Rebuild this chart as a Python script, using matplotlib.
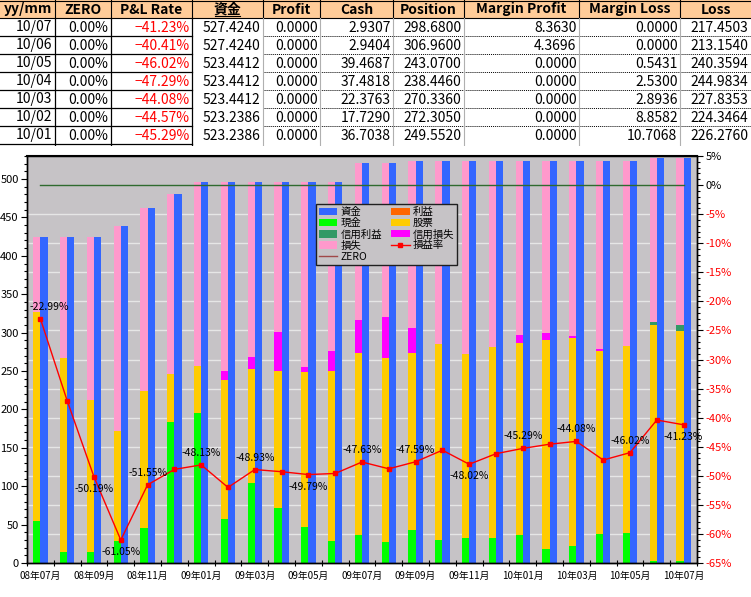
import matplotlib
matplotlib.use('Agg')
import matplotlib.pyplot as plt
import numpy as np
from matplotlib.patches import Patch, Rectangle
from matplotlib.lines import Line2D
from matplotlib.ticker import MultipleLocator, FixedLocator
import matplotlib.transforms as mtransforms
from matplotlib import font_manager

plt.rcParams['font.family'] = ['Noto Sans CJK JP', 'DejaVu Sans']
_names = {f.name for f in font_manager.fontManager.ttflist}
NARROW = ['Liberation Sans Narrow', 'Noto Sans CJK JP', 'DejaVu Sans'] \
    if 'Liberation Sans Narrow' in _names else ['Noto Sans CJK JP', 'DejaVu Sans']

# ---------------- data ----------------
months = ['08/07', '08/08', '08/09', '08/10', '08/11', '08/12',
          '09/01', '09/02', '09/03', '09/04', '09/05', '09/06',
          '09/07', '09/08', '09/09', '09/10', '09/11', '09/12',
          '10/01', '10/02', '10/03', '10/04', '10/05', '10/06', '10/07']
capital = [424.0, 424.0, 424.0, 439.0, 462.0, 480.5,
           496.0, 496.0, 496.0, 496.0, 496.0, 496.0,
           521.0, 521.0, 523.2, 523.2, 523.2, 523.2,
           523.2386, 523.2386, 523.4412, 523.4412, 523.4412, 527.4240, 527.4240]
profit = [0.0, 0.0, 0.0, 0.0, 0.0, 0.0, 0.0, 0.0, 0.0, 0.0, 0.0, 0.0, 0.0,
          0.0, 0.0, 0.0, 0.0, 0.0, 0.0, 0.0, 0.0, 0.0, 0.0, 0.0, 0.0]
cash = [55.0, 14.7, 14.7, 28.6, 46.0, 183.6,
        195.7, 57.3, 104.6, 72.0, 47.3, 28.6,
        36.0, 26.9, 43.0, 30.0, 32.1, 32.1,
        36.7038, 17.7290, 22.3763, 37.4818, 39.4687, 2.9404, 2.9307]
position = [272.2, 252.7, 197.5, 142.8, 178.0, 62.9,
            61.3, 181.0, 148.0, 178.4, 201.8, 221.4,
            237.0, 239.6, 230.8, 255.2, 240.0, 249.2,
            249.5520, 272.3050, 270.3360, 238.4460, 243.0700, 306.9600, 298.6800]
margin_profit = [0.0, 0.0, 0.0, 0.0, 0.0, 0.0, 0.0, 0.0, 0.0, 0.0, 0.0, 0.0, 0.0,
                 0.0, 0.0, 0.0, 0.0, 0.0, 0.0, 0.0, 0.0, 0.0, 0.0, 4.3696, 8.3630]
margin_loss = [0.0, 0.0, 0.0, 0.0, 0.0, 0.0,
               0.0, 12.0, 15.6, 50.4, 6.0, 26.0,
               43.4, 54.2, 32.6, 0.0, 0.0, 0.0,
               10.7068, 8.8582, 2.8936, 2.5300, 0.5431, 0.0, 0.0]
loss = [96.8, 156.6, 211.8, 267.6, 238.0, 234.0,
        239.0, 245.7, 227.8, 195.2, 240.9, 220.0,
        204.6, 200.3, 216.8, 238.0, 251.1, 241.9,
        226.2760, 224.3464, 227.8353, 244.9834, 240.3594, 213.1540, 217.4503]
pl_rate = [-22.99, -37.1, -50.19, -61.05, -51.55, -48.9,
           -48.13, -52.0, -48.93, -49.3, -49.79, -49.6,
           -47.63, -48.8, -47.59, -45.6, -48.02, -46.2,
           -45.29, -44.57, -44.08, -47.29, -46.02, -40.41, -41.23]
zero_rate = [0.0, 0.0, 0.0, 0.0, 0.0, 0.0, 0.0, 0.0, 0.0, 0.0, 0.0, 0.0, 0.0,
             0.0, 0.0, 0.0, 0.0, 0.0, 0.0, 0.0, 0.0, 0.0, 0.0, 0.0, 0.0]
label_pos = ['a', None, 'b', 'b', 'a', None, 'a', None, 'a', None, 'b', None,
             'a', None, 'a', None, 'b', None, 'a', None, 'a', None, 'a', None, 'b']

table_header = ['yy/mm', 'ZERO', 'P&L Rate', '資金', 'Profit', 'Cash',
                'Position', 'Margin Profit', 'Margin Loss', 'Loss']

# ---------------- colours ----------------
C_CAP = '#3366FF'
C_PROFIT = '#FF6600'
C_CASH = '#00FF00'
C_POS = '#FFCC00'
C_MP = '#339966'
C_ML = '#FF00FF'
C_LOSS = '#FF99CC'
C_BG = '#C6C3C6'

W, H = 751, 597
fig = plt.figure(figsize=(W / 100, H / 100), dpi=100)

# ---------------- table ----------------
axt = fig.add_axes([0, 1 - 146 / H, 1, 146 / H])
axt.set_xlim(0, W)
axt.set_ylim(146, 0)
axt.axis('off')
col_edges = [0, 55, 111, 192, 263, 320, 393, 464, 579, 680, 751]
row_h = 18
axt.add_patch(Rectangle((0, 0), W, row_h, facecolor='#FFCC99', edgecolor='none'))
for j, name in enumerate(table_header):
    cx = (col_edges[j] + col_edges[j + 1]) / 2
    axt.text(cx, row_h / 2 + 0.5, name, ha='center', va='center',
             fontsize=10, fontweight='bold', color='black')
axt.plot([215, 240], [16.3, 16.3], color='black', lw=0.8)
axt.plot([0, W], [0.5, 0.5], color='black', lw=0.8)
axt.plot([0, W], [row_h, row_h], color='black', lw=0.8)
for e in col_edges[1:-1]:
    axt.plot([e, e], [0, row_h], color='black', lw=0.8)

rows = list(reversed(range(len(months) - 7, len(months))))
for r, i in enumerate(rows):
    y0 = row_h * (r + 1)
    yc = y0 + row_h / 2 + 0.5
    vals = [months[i][0:2] + '/' + months[i][3:5],
            f'{zero_rate[i]:.2f}%',
            f'{pl_rate[i]:.2f}%'.replace('-', '\u2212'),
            f'{capital[i]:.4f}', f'{profit[i]:.4f}', f'{cash[i]:.4f}',
            f'{position[i]:.4f}', f'{margin_profit[i]:.4f}',
            f'{margin_loss[i]:.4f}', f'{loss[i]:.4f}']
    for j, v in enumerate(vals):
        color = 'red' if j == 2 else 'black'
        axt.text(col_edges[j + 1] - 2.5, yc, v, ha='right', va='center',
                 fontsize=10, color=color)
    axt.plot([0, 192], [y0 + row_h, y0 + row_h], color='black', lw=0.9)
    if r < 6:
        axt.plot([263, W], [y0 + row_h, y0 + row_h], color='black', lw=0.7,
                 linestyle=(0, (1, 1)))
for e in [55, 111, 192]:
    axt.plot([e, e], [row_h, 146], color='black', lw=0.9)
for e in [263, 320, 393, 464, 579, 680]:
    axt.plot([e, e], [row_h, 146], color='#B0B0B0', lw=0.8)

# ---------------- chart ----------------
ax = fig.add_axes([27 / W, (H - 563) / H, 670 / W, 407 / H])
ax.set_facecolor(C_BG)
ax2 = ax.twinx()

x = np.arange(len(months))
w = 0.27
ax.set_xlim(-0.5, len(months) - 0.5)
ax.set_ylim(0, 530)
ax2.set_ylim(-65, 5)

gtrans = mtransforms.blended_transform_factory(ax.transAxes, ax2.transData)
for g in range(-60, 0, 5):
    ax.add_line(Line2D([0, 1], [g, g], transform=gtrans, color='#E6E6E6',
                       lw=1.0, zorder=0.5))

xs = x - w / 2
bottom = np.zeros(len(months))
for vals, col in [(profit, C_PROFIT), (cash, C_CASH), (position, C_POS),
                  (margin_profit, C_MP), (margin_loss, C_ML), (loss, C_LOSS)]:
    ax.bar(xs, vals, w, bottom=bottom, color=col, edgecolor='none', zorder=2)
    bottom = bottom + np.array(vals)
ax.bar(x + w / 2, capital, w, color=C_CAP, edgecolor='none', zorder=2)

ax2.plot(x, zero_rate, color='#2F6B2F', lw=1.0, zorder=3)
ax2.plot(x, pl_rate, color='#FF0000', lw=1.0, marker='s', markersize=2.5,
         zorder=4)
for i, pos in enumerate(label_pos):
    if pos is None:
        continue
    dy = 12 if pos == 'a' else -12
    dx = 9 if i == 0 else 0
    ax2.annotate(f'{pl_rate[i]:.2f}%', (x[i], pl_rate[i]),
                 xytext=(dx, dy), textcoords='offset pixels',
                 ha='center', va='center', fontsize=7.5, color='black',
                 family=NARROW, zorder=5)

for a in (ax, ax2):
    for s in a.spines.values():
        s.set_color('black')
        s.set_linewidth(1.0)
ax.spines['top'].set_linewidth(1.5)

ax.set_yticks(np.arange(0, 501, 50))
ax.yaxis.set_minor_locator(MultipleLocator(10))
ax.tick_params(axis='y', which='major', direction='out', length=4,
               labelsize=8, pad=2, width=0.8)
ax.tick_params(axis='y', which='minor', direction='out', length=2, width=0.8)
for lab in ax.get_yticklabels():
    lab.set_family(NARROW)

ax.xaxis.set_major_locator(FixedLocator(x[::2]))
ax.set_xticklabels(['%s年%s月' % (m[0:2], m[3:5]) for m in months[::2]])
ax.xaxis.set_minor_locator(FixedLocator(np.arange(-0.5, len(months), 1)))
ax.tick_params(axis='x', which='major', length=0, labelsize=7, pad=6)
ax.tick_params(axis='x', which='minor', direction='inout', length=5, width=0.8)
for lab in ax.get_xticklabels():
    lab.set_family(NARROW)

rt = list(range(-65, 6, 5))
ax2.set_yticks(rt)
ax2.set_yticklabels([f'{v}%' for v in rt])
for lab, v in zip(ax2.get_yticklabels(), rt):
    lab.set_color('red' if v < 0 else 'black')
    lab.set_family(NARROW)
ax2.yaxis.set_minor_locator(MultipleLocator(1))
ax2.tick_params(axis='y', which='major', direction='out', length=4,
                labelsize=8, pad=2, width=0.8)
ax2.tick_params(axis='y', which='minor', direction='out', length=2, width=0.8)

handles = [
    Patch(facecolor=C_CAP, label='資金'),
    Patch(facecolor=C_CASH, label='現金'),
    Patch(facecolor=C_MP, label='信用利益'),
    Patch(facecolor=C_LOSS, label='損失'),
    Line2D([], [], color='#A04848', lw=1.0, label='ZERO'),
    Patch(facecolor=C_PROFIT, label='利益'),
    Patch(facecolor=C_POS, label='股票'),
    Patch(facecolor=C_ML, label='信用損失'),
    Line2D([], [], color='#FF0000', lw=1.0, marker='s', markersize=2.5,
           label='損益率'),
]
leg = ax2.legend(handles=handles, ncol=2, loc='upper left',
                 bbox_to_anchor=(316 / W, 1 - 204 / H),
                 bbox_transform=fig.transFigure, fontsize=7.5,
                 frameon=True, fancybox=False, facecolor=C_BG,
                 edgecolor='#202020', framealpha=1.0, handlelength=1.75,
                 handleheight=0.7, labelspacing=0.1, columnspacing=0.9,
                 borderpad=0.3, handletextpad=0.3, borderaxespad=0)
leg.get_frame().set_linewidth(1.0)

fig.savefig('out.png', dpi=100, facecolor='white')
